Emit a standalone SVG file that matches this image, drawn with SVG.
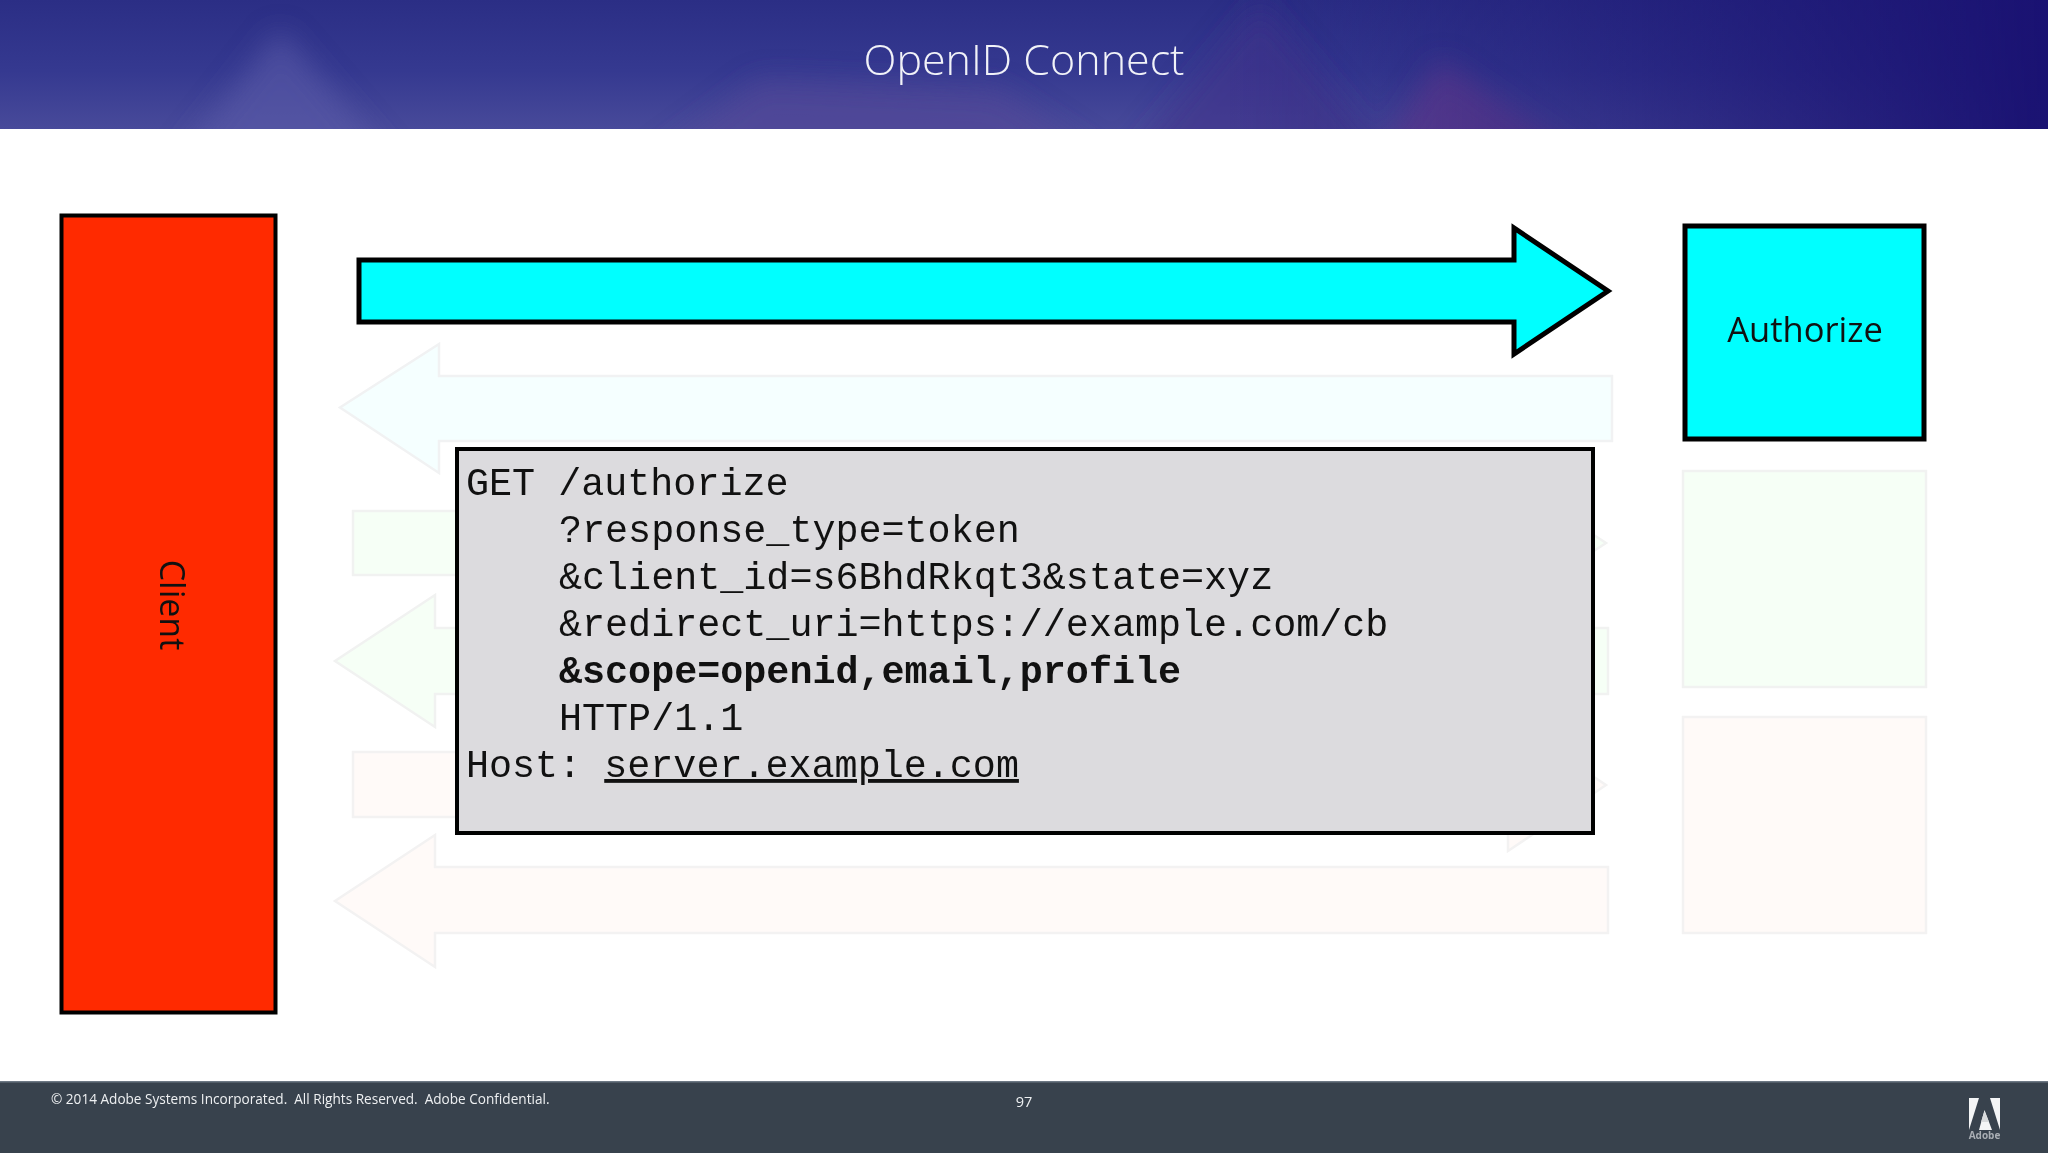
<svg xmlns="http://www.w3.org/2000/svg" width="2048" height="1153" viewBox="0 0 2048 1153">
<style>
.ui{font-family:"Open Sans","Noto Sans","Liberation Sans",sans-serif}
.mono{font-family:"Liberation Mono","Courier New",monospace;font-size:38.4px;fill:#111}
.strong{fill:#00ffff;stroke:#000;stroke-width:5}
.fc{fill:#f5ffff;stroke:#f1f2f3;stroke-width:2.5}
.fg{fill:#f6fff6;stroke:#f1f2f1;stroke-width:2.5}
.fr{fill:#fffaf8;stroke:#f3f2f2;stroke-width:2.5}
</style>
<defs>
<linearGradient id="hdr" x1="0" y1="0" x2="0" y2="1"><stop offset="0" stop-color="#2b2e85"/><stop offset="0.55" stop-color="#353990"/><stop offset="1" stop-color="#484a9a"/></linearGradient>
<linearGradient id="hdrR" x1="0" y1="0" x2="1" y2="0"><stop offset="0.6" stop-color="#1f1a78" stop-opacity="0"/><stop offset="1" stop-color="#1a1272"/></linearGradient>
<filter id="soft" x="-30%" y="-30%" width="160%" height="160%"><feGaussianBlur stdDeviation="14"/></filter>
<clipPath id="hclip"><rect width="2048" height="129"/></clipPath>
</defs>
<rect width="2048" height="1153" fill="#fff"/>
<g id="header">
<rect width="2048" height="129" fill="url(#hdr)"/>
<g clip-path="url(#hclip)"><g filter="url(#soft)">
<polygon points="170,170 280,30 400,170" fill="#5a5aa8" opacity=".6"/>
<polygon points="640,170 1120,170 1000,90 760,80" fill="#554a98" opacity=".6"/>
<polygon points="1370,170 1440,60 1600,170" fill="#6a3f90" opacity=".75"/>
<polygon points="1120,170 1260,0 1400,170" fill="#40308a" opacity=".6"/>
</g></g>
<rect width="2048" height="129" fill="url(#hdrR)"/>
<text x="1024" y="75" text-anchor="middle" class="ui" font-size="43" font-weight="300" fill="#f1f2f8">OpenID Connect</text>
</g>
<g id="connectors">
<polygon class="fc" points="1612,376 439,376 439,344 340,407.500 439,473 439,441 1612,441"/>
<polygon class="fg" points="353,511 1508,511 1508,479 1606,543 1508,607 1508,575 353,575"/>
<polygon class="fg" points="1608,628 435,628 435,595 335,661 435,727 435,694 1608,694"/>
<polygon class="fr" points="353,752 1508,752 1508,720 1606,785 1508,851 1508,817 353,817"/>
<polygon class="fr" points="1608,867 435,867 435,835 335,901 435,967 435,933 1608,933"/>
<polygon class="strong" points="359,260 1514,260 1514,228 1608,291 1514,354 1514,322 359,322"/>
</g>
<g id="client">
<rect x="61.500" y="215.500" width="214" height="797" fill="#ff2a00" stroke="#000" stroke-width="4"/>
<text transform="translate(160,605) rotate(90)" text-anchor="middle" class="ui" font-size="34" fill="#111">Client</text>
</g>
<g id="authorize">
<rect class="strong" x="1685" y="226" width="239" height="213"/>
<text x="1805" y="342" text-anchor="middle" class="ui" font-size="34.500" fill="#111">Authorize</text>
</g>
<g id="box-green"><rect class="fg" x="1683" y="471" width="243" height="216"/></g>
<g id="box-red"><rect class="fr" x="1683" y="717" width="243" height="216"/></g>
<g id="request">
<rect x="457" y="449" width="1136" height="384" fill="#dcdbde" stroke="#000" stroke-width="4"/>
<text class="mono" x="466" y="495">GET /authorize</text>
<text class="mono" x="559" y="542">?response_type=token</text>
<text class="mono" x="559" y="589">&amp;client_id=s6BhdRkqt3&amp;state=xyz</text>
<text class="mono" x="559" y="636">&amp;redirect_uri=https://example.com/cb</text>
<text class="mono" x="559" y="683" font-weight="700">&amp;scope=openid,email,profile</text>
<text class="mono" x="559" y="730">HTTP/1.1</text>
<text class="mono" x="466" y="777">Host: <tspan text-decoration="underline">server.example.com</tspan></text>
</g>
<g id="footer">
<rect y="1081" width="2048" height="72" fill="#38424d"/>
<rect y="1081" width="2048" height="1.500" fill="#6d7884"/>
<text x="51" y="1104" class="ui" font-size="13.600" fill="#eef0f2" xml:space="preserve">© 2014 Adobe Systems Incorporated.  All Rights Reserved.  Adobe Confidential.</text>
<text x="1024" y="1107" text-anchor="middle" class="ui" font-size="14.500" fill="#eef0f2">97</text>
<rect x="1969" y="1098" width="31" height="32" fill="#f4f5f6"/>
<polygon points="1979,1098 1990,1098 2000,1130 1992,1130 1984.500,1110 1979,1130 1969,1130" fill="#38424d"/>
<polygon points="1984.500,1111 1989,1122 1981,1122" fill="#d8dadc"/>
<text x="1984.500" y="1139" text-anchor="middle" class="ui" font-size="10" font-weight="700" fill="#a9aeb4">Adobe</text>
</g>
</svg>
